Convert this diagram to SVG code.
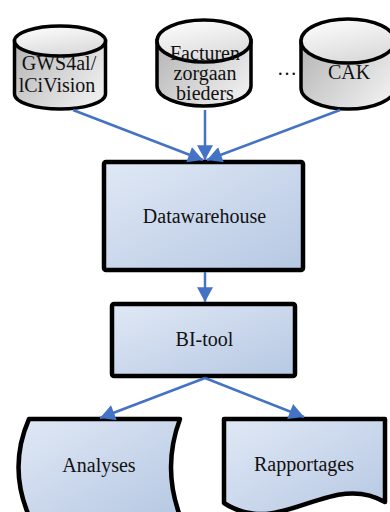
<svg xmlns="http://www.w3.org/2000/svg" width="390" height="512" viewBox="0 0 390 512">
<defs>
<linearGradient id="cylBody" x1="0" y1="0" x2="1" y2="0.6">
<stop offset="0" stop-color="#b4b4b4"/>
<stop offset="1" stop-color="#ececec"/>
</linearGradient>
<linearGradient id="cylTop" x1="0" y1="0" x2="0.4" y2="1">
<stop offset="0" stop-color="#ffffff"/>
<stop offset="1" stop-color="#dcdcdc"/>
</linearGradient>
<linearGradient id="boxFill" x1="0" y1="0" x2="1" y2="1">
<stop offset="0" stop-color="#e0e8f5"/>
<stop offset="1" stop-color="#b6c8e3"/>
</linearGradient>
<marker id="arr" markerUnits="userSpaceOnUse" markerWidth="16" markerHeight="16" viewBox="0 0 13 14" refX="13" refY="7" orient="auto">
<path d="M0,0 L13,7 L0,14 Z" fill="#4472c4"/>
</marker>
</defs>
<style>
.cyl{fill:url(#cylBody);stroke:#000;stroke-width:3.5}
.cylt{fill:url(#cylTop);stroke:#000;stroke-width:3.5}
.box{fill:url(#boxFill);stroke:#000;stroke-width:4.5;stroke-linejoin:round}
.t{font-family:"Liberation Serif","Times New Roman",serif;font-size:20px;fill:#111;text-anchor:middle}
.c line{stroke:#4472c4;stroke-width:2.5;marker-end:url(#arr)}
</style>
<g id="cyl1">
<path class="cyl" d="M14.5,41 L14.5,94 A45.5,15 0 0 0 105.5,94 L105.5,41 Z"/>
<ellipse class="cylt" cx="60" cy="41" rx="45.5" ry="15"/>
<text class="t" x="59" y="70">GWS4al/</text>
<text class="t" x="57" y="92">lCiVision</text>
</g>
<g id="cyl2">
<path class="cyl" d="M157,41 L157,86 A47,20 0 0 0 251,86 L251,41 Z"/>
<ellipse class="cylt" cx="204" cy="41" rx="47" ry="21"/>
<text class="t" x="205" y="60">Facturen</text>
<text class="t" x="205" y="80">zorgaan</text>
<text class="t" x="205" y="100">bieders</text>
</g>
<g id="dots">
<text class="t" x="287" y="75">…</text>
</g>
<g id="cyl3">
<path class="cyl" d="M301,41 L301,88 A47,21 0 0 0 395,88 L395,41 Z"/>
<ellipse class="cylt" cx="348" cy="41" rx="47" ry="22"/>
<text class="t" x="349" y="79">CAK</text>
</g>
<g id="dw">
<rect class="box" x="104" y="162" width="199" height="108" rx="2"/>
<text class="t" x="204.5" y="223">Datawarehouse</text>
</g>
<g id="bi">
<rect class="box" x="112" y="304" width="183" height="72" rx="2"/>
<text class="t" x="204.5" y="346">BI-tool</text>
</g>
<g id="analyses">
<path class="box" d="M29,419 L180,419 Q162,467 180,516 L29,516 Q8,467 29,419 Z"/>
<text class="t" x="99" y="472">Analyses</text>
</g>
<g id="rapportages">
<path class="box" d="M224,419 L385,419 L385,502 C330,470 280,540 224,503 Z"/>
<text class="t" x="304" y="471">Rapportages</text>
</g>
<g id="connectors" class="c">
<line x1="73" y1="110" x2="203" y2="160"/>
<line x1="205" y1="110" x2="205" y2="160"/>
<line x1="340" y1="110" x2="207" y2="160"/>
<line x1="205" y1="272" x2="205" y2="302"/>
<line x1="205" y1="378" x2="100" y2="418"/>
<line x1="205" y1="378" x2="304" y2="417"/>
</g>
</svg>
